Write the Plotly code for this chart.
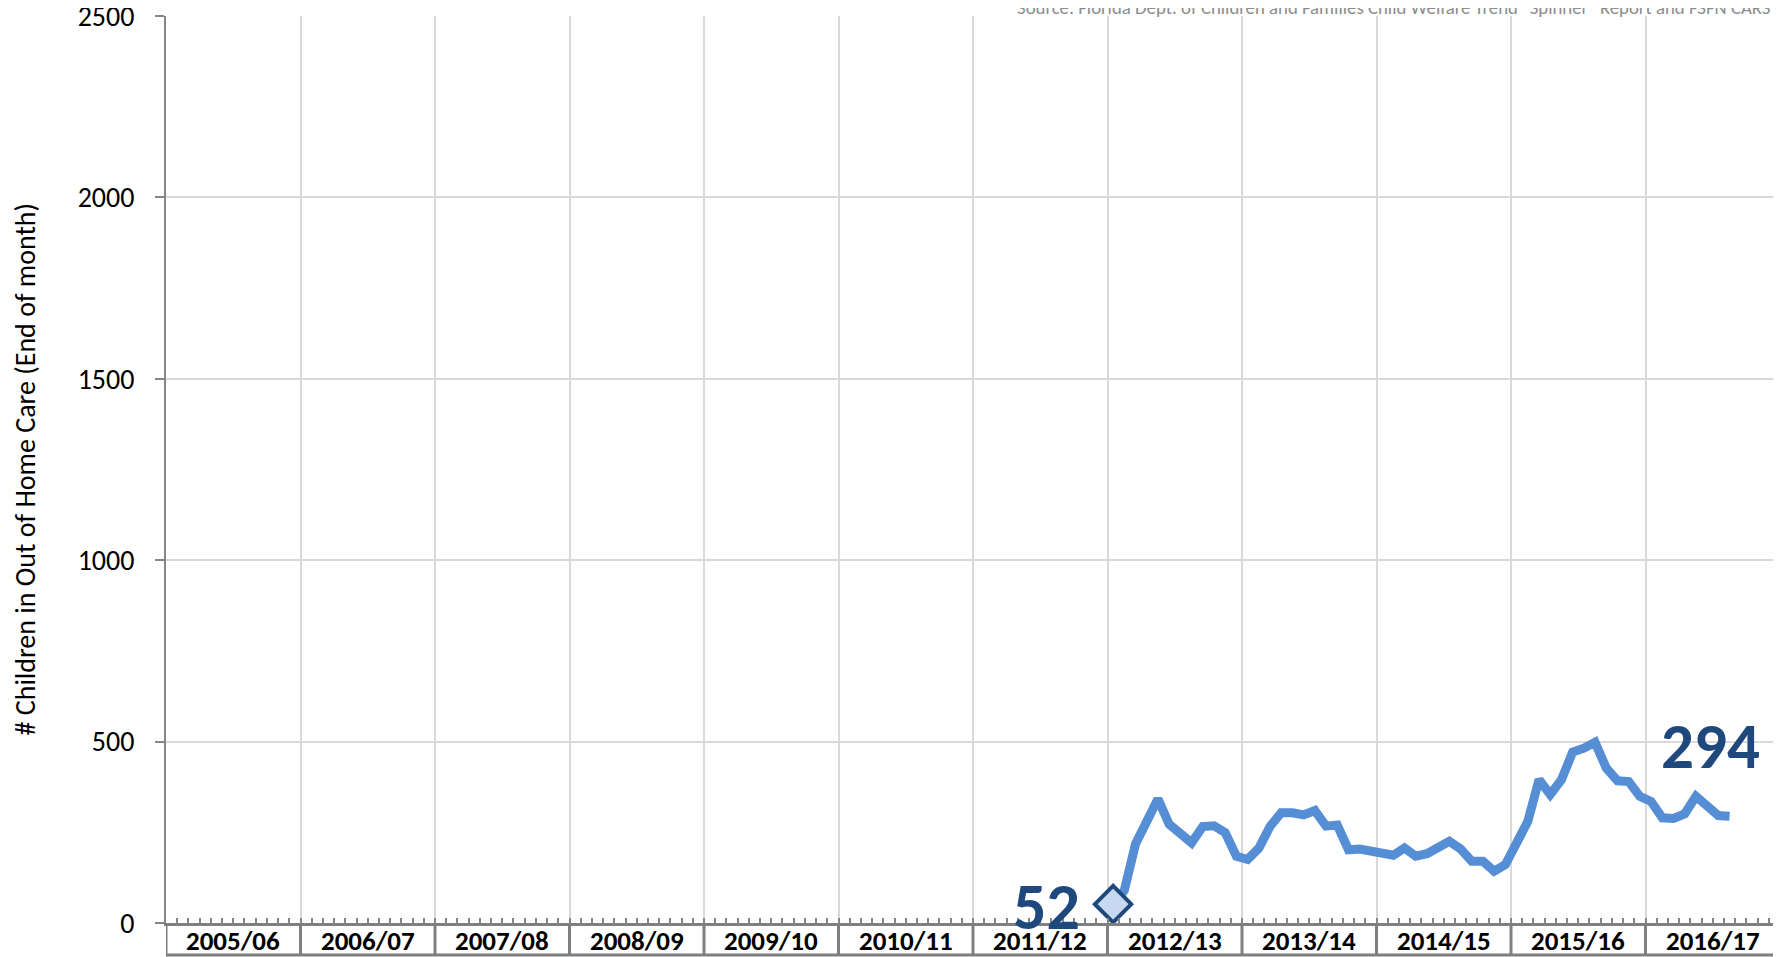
import plotly.graph_objects as go

# ---------------- data ----------------
fiscal_years = ["2005/06", "2006/07", "2007/08", "2008/09", "2009/10", "2010/11",
                "2011/12", "2012/13", "2013/14", "2014/15", "2015/16", "2016/17"]
month_names = ["Jul", "Aug", "Sep", "Oct", "Nov", "Dec",
               "Jan", "Feb", "Mar", "Apr", "May", "Jun"]
first_month = "2012/13 Jul"
children_in_care = [52, 90, 218, 283, 342, 272, 248, 221, 266, 268, 249, 184,
                    175, 206, 266, 304, 304, 298, 310, 267, 270, 202, 204, 198,
                    187, 187, 207, 184, 191, 211, 225, 204, 170, 170, 143, 161,
                    216, 280, 395, 354, 395, 471, 482, 498, 427, 392, 390, 349,
                    335, 290, 288, 301, 349, 326, 296, 294]
y_ticks = [0, 500, 1000, 1500, 2000, 2500]
source_text = 'Source: Florida Dept. of Children and Families Child Welfare Trend "Spinner" Report and FSFN CARS'
y_title = "# Children in Out of Home Care (End of month)"

# ---------------- derived ----------------
months = [f"{fy} {m}" for fy in fiscal_years for m in month_names]
start = months.index(first_month)
x_vals = [start + k + 0.5 for k in range(len(children_in_care))]
n_months = len(months)

FONT = "Carlito, Lato, sans-serif"
LINE_BLUE = "#558ED5"
DARK_BLUE = "#1F497D"
GRID = "#D9D9D9"
AXIS = "#868686"
BOX = "#7F7F7F"

# the page body has an 8px margin, so the figure is sized to fit the window
W, H = 1773, 949
ML, MR, MT, MB = 158, 1, 8, 33.5
plot_h = H - MT - MB

fig = go.Figure()
fig.add_trace(go.Scatter(
    x=x_vals, y=children_in_care, mode="lines",
    line=dict(color=LINE_BLUE, width=9, shape="linear"),
    hoverinfo="skip", showlegend=False))
fig.add_trace(go.Scatter(
    x=[x_vals[0]], y=[children_in_care[0]], mode="markers",
    marker=dict(symbol="diamond", size=28, color="#C6D9F1",
                line=dict(color=DARK_BLUE, width=4)),
    hoverinfo="skip", showlegend=False))

fig.update_layout(
    width=W, height=H,
    margin=dict(l=ML, r=MR, t=MT, b=MB, pad=0, autoexpand=False),
    paper_bgcolor="white", plot_bgcolor="white",
    font=dict(family=FONT, color="black"),
    xaxis=dict(range=[0, n_months], tickmode="array", automargin=False,
               tickvals=list(range(0, n_months + 1, 12)),
               showticklabels=False, showgrid=True, gridcolor=GRID, gridwidth=2,
               zeroline=False, showline=True, linecolor=BOX, linewidth=3,
               ticks="inside", ticklen=5, tickcolor=AXIS, tickwidth=1.5,
               minor=dict(ticks="inside", tickmode="linear", tick0=0, dtick=1,
                          ticklen=5, tickcolor=AXIS, tickwidth=1.5, showgrid=False)),
    yaxis=dict(range=[0, 2500], tickmode="array", tickvals=y_ticks, automargin=False,
               ticktext=[str(v) for v in y_ticks], ticklabeloverflow="allow",
               showgrid=True, gridcolor=GRID, gridwidth=2, zeroline=False,
               showline=True, linecolor=AXIS, linewidth=2,
               ticks="outside", ticklen=9, tickcolor=AXIS, tickwidth=2,
               ticklabelstandoff=15,
               tickfont=dict(size=28, family=FONT, color="black")),
)

shapes = []
box_bottom = -(MB - 1.5) / plot_h
for i in range(0, n_months + 1, 12):
    shapes.append(dict(type="line", xref="x", yref="paper", x0=i, x1=i,
                       y0=0, y1=box_bottom, line=dict(color=BOX, width=3)))
shapes.append(dict(type="line", xref="paper", yref="paper", x0=0, x1=1,
                   y0=box_bottom, y1=box_bottom, line=dict(color=BOX, width=3)))
fig.update_layout(shapes=shapes)

annotations = []
for j, fy in enumerate(fiscal_years):
    annotations.append(dict(x=j * 12 + 6, y=0, xref="x", yref="paper",
                            text=f"<b>{fy}</b>", showarrow=False,
                            xanchor="center", yanchor="middle", yshift=-17,
                            font=dict(size=27, family=FONT, color="black")))
annotations.append(dict(x=x_vals[0], y=children_in_care[0], xref="x", yref="y",
                        text=f"<b>{children_in_care[0]}</b>", showarrow=False,
                        xanchor="right", yanchor="middle", xshift=-31, yshift=-2,
                        font=dict(size=66, family=FONT, color=DARK_BLUE)))
annotations.append(dict(x=x_vals[-1], y=children_in_care[-1], xref="x", yref="y",
                        text=f"<b>{children_in_care[-1]}</b>", showarrow=False,
                        xanchor="center", yanchor="middle", xshift=-19, yshift=71,
                        font=dict(size=65, family=FONT, color=DARK_BLUE)))
annotations.append(dict(x=1, y=1, xref="paper", yref="paper", text=source_text,
                        showarrow=False, xanchor="right", yanchor="bottom",
                        xshift=-8, yshift=-5,
                        font=dict(size=18.8, family=FONT, color="#8C8C8C")))
annotations.append(dict(x=0, y=0.5, xref="paper", yref="paper", text=y_title,
                        showarrow=False, textangle=-90, xanchor="center",
                        yanchor="middle", xshift=-141,
                        font=dict(size=28, family=FONT, color="black")))
fig.update_layout(annotations=annotations)

fig.write_html("out.html")
